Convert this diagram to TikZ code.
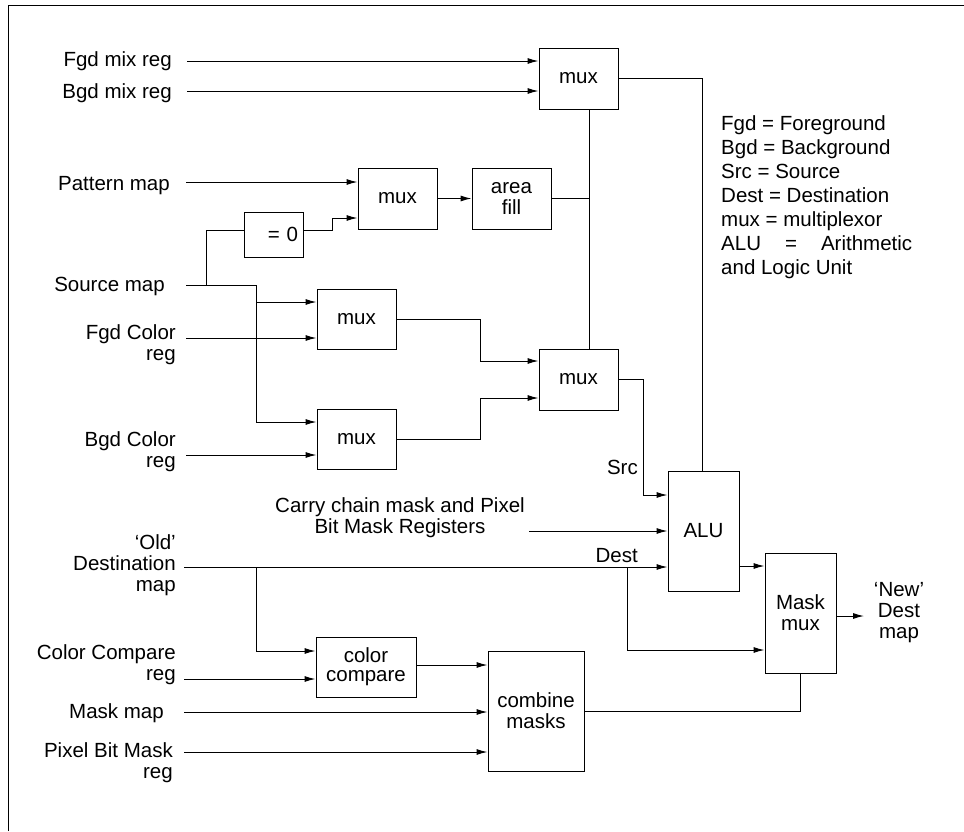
\documentclass[tikz,border=0pt]{standalone}
\usepackage{fontspec}
\setmainfont{Liberation Sans}
\usetikzlibrary{arrows.meta,calc}
\newcommand{\tstrut}{\rule{0pt}{16pt}}
\begin{document}
\begin{tikzpicture}[x=1pt,y=-1pt,
  every node/.style={font=\fontsize{20.5}{21}\selectfont},
  box/.style={draw, line width=1pt, inner sep=0pt, align=center},
  lbl/.style={inner sep=0pt, align=right, anchor=north east},
  ctr/.style={inner sep=0pt, align=center, anchor=north},
  wire/.style={line width=1pt},
  arr/.style={wire, -{Latex[length=11pt,width=6pt]}}
]
\useasboundingbox (0,0) rectangle (964,831);
% frame
\draw[wire] (8,831) -- (8,5) -- (964,5);

% boxes
\node[box, minimum width=79pt, minimum height=61pt] (mtop) at (578.5,78.5) {mux};
\node[box, minimum width=79pt, minimum height=61pt] (mpat) at (397.5,198.5) {mux};
\node[box, minimum width=79pt, minimum height=61pt] (fill) at (511.5,198.5) {area\\fill};
\node[box, minimum height=45pt, text width=49pt, align=right, inner xsep=5pt] (zero) at (273.5,234.5) {= 0};
\node[box, minimum width=79pt, minimum height=60pt] (mA) at (356.5,319) {mux};
\node[box, minimum width=79pt, minimum height=60pt] (mB) at (356.5,439) {mux};
\node[box, minimum width=79pt, minimum height=61pt] (mC) at (578.5,379.5) {mux};
\node[box, minimum width=71pt, minimum height=120pt] (alu) at (703.5,531) {ALU};
\node[box, minimum width=71pt, minimum height=120pt] (mmux) at (800.5,613) {Mask\\mux};
\node[box, minimum width=100pt, minimum height=60pt] (cc) at (366,667) {color\\[-2pt]compare};
\node[box, minimum width=96pt, minimum height=120pt] (comb) at (536,711) {combine\\masks};

% labels
\node[lbl] (lfgdmix) at (172,50) {\tstrut Fgd mix reg};
\node[lbl] (lbgdmix) at (172,82) {\tstrut Bgd mix reg};
\node[lbl] (lpat) at (170,174) {\tstrut Pattern map};
\node[lbl] (lsrc) at (165,275) {\tstrut Source map};
\node[lbl] (lfgdc) at (176,323) {\tstrut Fgd Color\\reg};
\node[lbl] (lbgdc) at (176,430) {\tstrut Bgd Color\\reg};
\node[lbl] (lold) at (176,533) {\tstrut ‘Old’\\Destination\\map};
\node[lbl] (lcc) at (176,643) {\tstrut Color Compare\\reg};
\node[lbl] (lmask) at (164,702) {\tstrut Mask map};
\node[lbl] (lpix) at (173,741) {\tstrut Pixel Bit Mask\\reg};
\node[ctr] (lcarry) at (400,496) {\tstrut Carry chain mask and Pixel\\Bit Mask Registers};
\node[lbl] (lsrcl) at (638,458) {\tstrut Src};
\node[lbl] (ldest) at (638,546) {\tstrut Dest};
\node[ctr] (lnew) at (899,580) {\tstrut ‘New’\\Dest\\map};
\node[inner sep=0pt, align=left, anchor=north west, font=\fontsize{20.5}{24}\selectfont] (legend) at (721,114)
  {\tstrut Fgd = Foreground\\Bgd = Background\\Src = Source\\Dest = Destination\\mux = multiplexor\\\makebox[191pt][l]{ALU\hfill=\hfill Arithmetic}\\and Logic Unit};

% input start points
\coordinate (a1) at (187,61);
\coordinate (a2) at (187,91);
\coordinate (a3) at (186,182);
\coordinate (s0) at (186,285);
\coordinate (s1) at (256,285);
\coordinate (s2) at (206,285);
\coordinate (a6) at (186,338);
\coordinate (a7) at (186,455);
\coordinate (j1) at (480,0);
\coordinate (a15) at (529,531);
\coordinate (d0) at (184,567);
\coordinate (d1) at (256,567);
\coordinate (d2) at (627,567);
\coordinate (a18) at (184,679);
\coordinate (a20) at (184,712);
\coordinate (a21) at (184,752);
\coordinate (vx) at ([xshift=10.5pt]mtop.south);
\coordinate (newend) at (864,616);

% connectors
\draw[arr] (a1) -- (a1 -| mtop.west);
\draw[arr] (a2) -- (a2 -| mtop.west);
\draw[arr] (a3) -- (a3 -| mpat.west);
\draw[wire] (s0) -- (s1);
\draw[arr] (s1) |- ([yshift=17pt]mB.west);
\draw[arr] ([yshift=17pt]mA.west -| s1) -- ([yshift=17pt]mA.west);
\draw[wire] (s2) |- ([yshift=4.5pt]zero.west);
\draw[arr] ([yshift=4.5pt]zero.east) -- ++(29,0) |- ([yshift=-19.5pt]mpat.west);
\draw[arr] (a6) -- (a6 -| mA.west);
\draw[arr] (a7) -- (a7 -| mB.west);
\draw[arr] (mA.east) -- (mA.east -| j1) |- ([yshift=18.5pt]mC.west);
\draw[arr] (mB.east) -- (mB.east -| j1) |- ([yshift=-18.5pt]mC.west);
\draw[arr] (mpat.east) -- (fill.west);
\draw[wire] (vx) -- (vx |- mC.north);
\draw[wire] (fill.east) -- (vx |- fill.east);
\draw[wire] (mtop.east) -| ([xshift=-1.5pt]alu.north);
\draw[arr] (mC.east) -- ++(25,0) |- ([yshift=36pt]alu.west);
\draw[arr] (a15) -- (a15 -| alu.west);
\draw[arr] (d0) -- (d0 -| alu.west);
\draw[arr] (d1) |- ([yshift=16pt]cc.west);
\draw[arr] (d2) |- ([yshift=-37pt]mmux.west);
\draw[arr] ([yshift=-35pt]alu.east) -- ([yshift=-35pt]alu.east -| mmux.west);
\draw[arr] (a18) -- (a18 -| cc.west);
\draw[arr] ([yshift=2pt]cc.east) -- ([yshift=2pt]cc.east -| comb.west);
\draw[arr] (a20) -- (a20 -| comb.west);
\draw[arr] (a21) -- (a21 -| comb.west);
\draw[wire] (comb.east) -| (mmux.south);
\draw[arr] (mmux.east |- newend) -- (newend);
\end{tikzpicture}
\end{document}
